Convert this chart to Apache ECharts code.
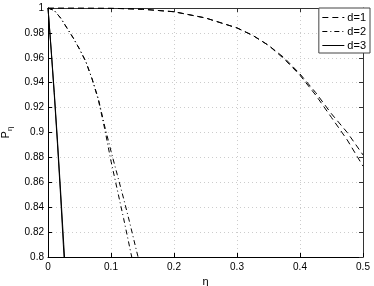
<!DOCTYPE html>
<html><head><meta charset="utf-8">
<script src="https://cdn.jsdelivr.net/npm/echarts@6/dist/echarts.min.js"></script>
<style>html,body{margin:0;padding:0;background:#fff}#c{width:374px;height:286px}</style>
</head><body><div id="c"></div>
<script>
// eta values and P values
const d1Eta = [0, 0.05, 0.1, 0.15, 0.2, 0.25, 0.3, 0.325, 0.35, 0.375, 0.4, 0.425, 0.45, 0.475, 0.5];
const d1A   = [1, 1, 0.9998, 0.999, 0.997, 0.992, 0.984, 0.978, 0.970, 0.960, 0.947, 0.932, 0.915, 0.900, 0.882];
const d1B   = [1, 1, 0.9998, 0.999, 0.997, 0.992, 0.984, 0.978, 0.970, 0.959, 0.946, 0.930, 0.912, 0.894, 0.873];

const d2Eta = [0, 0.01, 0.02, 0.03, 0.04, 0.05, 0.06, 0.07, 0.08, 0.09, 0.1, 0.11, 0.12, 0.13, 0.14, 0.15];
const d2A   = [1, 0.998, 0.992, 0.984, 0.976, 0.967, 0.957, 0.943, 0.926, 0.903, 0.877, 0.854, 0.831, 0.807, 0.783, 0.76];
const d2B   = [1, 0.998, 0.992, 0.984, 0.976, 0.967, 0.957, 0.943, 0.927, 0.905, 0.885, 0.866, 0.847, 0.827, 0.806, 0.786];

const d3Eta = [0, 0.005, 0.01, 0.015, 0.02, 0.025, 0.03];
const d3A   = [1, 0.966, 0.930, 0.891, 0.849, 0.804, 0.76];
const d3B   = [1, 0.967, 0.932, 0.894, 0.853, 0.810, 0.77];

const legendNames = ['d=1', 'd=2', 'd=3'];
const xTickLabels = ['0', '0.1', '0.2', '0.3', '0.4', '0.5'];
const yTickLabels = ['0.8', '0.82', '0.84', '0.86', '0.88', '0.9', '0.92', '0.94', '0.96', '0.98', '1'];

const pair = (xs, ys) => xs.map((x, i) => [x, ys[i]]);
const FONT = '"Liberation Sans", Arial, sans-serif';
const dash = [6, 4];
const dashDot = [5, 3, 1, 3];

function mk(name, data, type) {
  return {
    name, type: 'line', data, showSymbol: false, symbol: 'none', clip: true,
    lineStyle: { color: '#000', width: 1, type },
    itemStyle: { color: '#000' }, z: 5
  };
}

const fmtX = v => { const i = Math.round(v / 0.1); return xTickLabels[i] ?? String(+v.toFixed(2)); };
const fmtY = v => { const i = Math.round((v - 0.8) / 0.02); return yTickLabels[i] ?? String(+v.toFixed(2)); };

const chart = echarts.init(document.getElementById('c'), null, { renderer: 'canvas' });
chart.setOption({
  animation: false,
  backgroundColor: '#fff',
  textStyle: { fontFamily: FONT },
  grid: { left: 48, right: 11, top: 8, bottom: 29, containLabel: false, outerBoundsMode: 'none' },
  legend: {
    data: legendNames.map(n => ({ name: n })),
    orient: 'vertical', right: 4, top: 8,
    backgroundColor: '#fff', borderColor: '#444', borderWidth: 1,
    padding: [4, 4, 2, 3], itemGap: 3, itemWidth: 22, itemHeight: 10,
    itemStyle: { color: 'rgba(0,0,0,0)', borderColor: 'rgba(0,0,0,0)', borderWidth: 0, opacity: 0 },
    lineStyle: { width: 1, color: '#000' },
    textStyle: { fontSize: 11, color: '#000', fontFamily: FONT, padding: [0, 0, 0, -2] },
    z: 10
  },
  xAxis: [{
    type: 'value', min: 0, max: 0.5, interval: 0.1,
    name: 'η', nameLocation: 'middle', nameGap: 18,
    nameTextStyle: { fontSize: 11, color: '#000', fontFamily: FONT },
    axisLine: { show: true, onZero: false, lineStyle: { color: '#000', width: 1 } },
    axisTick: { show: true, inside: true, length: 4, lineStyle: { color: '#000' } },
    axisLabel: { fontSize: 10, color: '#000', margin: 5, formatter: fmtX, fontFamily: FONT },
    splitLine: { show: true, lineStyle: { color: '#cccccc', type: [1, 3], width: 1 } }
  }, {
    type: 'value', position: 'top', min: 0, max: 0.5, interval: 0.1,
    axisLine: { show: true, onZero: false, lineStyle: { color: '#333', width: 1 } },
    axisTick: { show: true, inside: true, length: 4, lineStyle: { color: '#333' } },
    axisLabel: { show: false }, splitLine: { show: false }
  }],
  yAxis: [{
    type: 'value', min: 0.8, max: 1, interval: 0.02,
    name: '{p|P}{s|η}', nameLocation: 'middle', nameGap: 34, nameRotate: 90,
    nameTextStyle: {
      color: '#000', fontFamily: FONT,
      rich: {
        p: { fontSize: 11, color: '#000', fontFamily: FONT, lineHeight: 16, verticalAlign: 'middle' },
        s: { fontSize: 8, color: '#000', fontFamily: FONT, lineHeight: 8, verticalAlign: 'bottom' }
      }
    },
    axisLine: { show: true, onZero: false, lineStyle: { color: '#000', width: 1 } },
    axisTick: { show: true, inside: true, length: 4, lineStyle: { color: '#000' } },
    axisLabel: { fontSize: 10, color: '#000', margin: 4, formatter: fmtY, fontFamily: FONT },
    splitLine: { show: true, lineStyle: { color: '#cccccc', type: [1, 3], width: 1 } }
  }, {
    type: 'value', position: 'right', min: 0.8, max: 1, interval: 0.02,
    axisLine: { show: true, onZero: false, lineStyle: { color: '#333', width: 1 } },
    axisTick: { show: true, inside: true, length: 4, lineStyle: { color: '#333' } },
    axisLabel: { show: false }, splitLine: { show: false }
  }],
  series: [
    mk('d=1', pair(d1Eta, d1A), dash),
    mk('d=1', pair(d1Eta, d1B), dash),
    mk('d=2', pair(d2Eta, d2A), dashDot),
    mk('d=2', pair(d2Eta, d2B), dashDot),
    mk('d=3', pair(d3Eta, d3A), 'solid'),
    mk('d=3', pair(d3Eta, d3B), 'solid')
  ]
});
</script></body></html>
